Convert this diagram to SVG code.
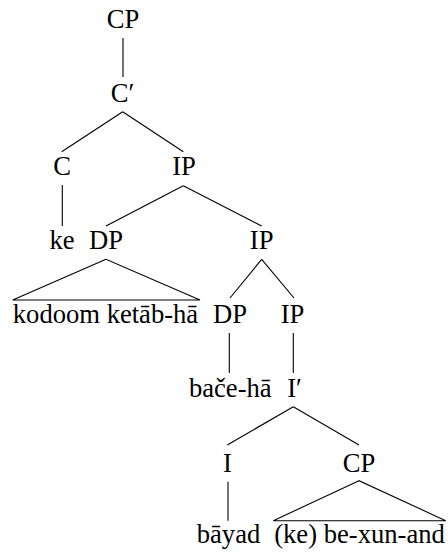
<svg xmlns="http://www.w3.org/2000/svg" width="448" height="554" viewBox="0 0 448 554">
  <style>
    .lbl { font-family: 'Liberation Serif', 'Times New Roman', Times, 'DejaVu Serif', serif; font-size: 26.6px; fill: #000; text-anchor: middle; }
    .edge { stroke: #000; stroke-width: 1.1; fill: none; }
  </style>
  <rect width="448" height="554" fill="#fff"/>

  <!-- branches -->
  <g id="connectors">
    <line class="edge" x1="123" y1="38" x2="123" y2="77"/>
    <line class="edge" x1="122.7" y1="111.7" x2="61.7" y2="151.7"/>
    <line class="edge" x1="122.7" y1="111.7" x2="183.3" y2="151.7"/>
    <line class="edge" x1="62.3" y1="185" x2="62.3" y2="226"/>
    <line class="edge" x1="183.3" y1="185.7" x2="106" y2="226"/>
    <line class="edge" x1="183.3" y1="185.7" x2="261.7" y2="226"/>
    <polygon class="edge" points="106,259.3 12.7,300 200,300"/>
    <line class="edge" x1="261.7" y1="259.3" x2="230" y2="298"/>
    <line class="edge" x1="261.7" y1="259.3" x2="294" y2="298"/>
    <line class="edge" x1="229.3" y1="333" x2="229.3" y2="373"/>
    <line class="edge" x1="293.3" y1="333" x2="293.3" y2="373"/>
    <line class="edge" x1="293.3" y1="406.7" x2="227.3" y2="445"/>
    <line class="edge" x1="293.3" y1="406.7" x2="359" y2="445"/>
    <line class="edge" x1="228" y1="481.7" x2="228" y2="520.7"/>
    <polygon class="edge" points="359,480.7 273.3,520.7 445.7,520.7"/>
  </g>

  <!-- nodes -->
  <g class="lbl" font-family="Liberation Serif">
    <g id="n-cp-top"><text x="123" y="28">CP</text></g>
    <g id="n-cbar"><text x="122.5" y="101.7">C′</text></g>
    <g id="n-c"><text x="62" y="175">C</text></g>
    <g id="n-ip1"><text x="184" y="175">IP</text></g>
    <g id="n-ke"><text x="62" y="249.3">ke</text></g>
    <g id="n-dp1"><text x="106" y="249.3">DP</text></g>
    <g id="n-ip2"><text x="261.7" y="249.3">IP</text></g>
    <g id="n-kodoom"><text x="105.5" y="322.7">kodoom ketāb-hā</text></g>
    <g id="n-dp2"><text x="230" y="322.7">DP</text></g>
    <g id="n-ip3"><text x="292.5" y="322.7">IP</text></g>
    <g id="n-bace"><text x="230.3" y="396.7">bače-hā</text></g>
    <g id="n-ibar"><text x="294.5" y="396.7">I′</text></g>
    <g id="n-i"><text x="227.5" y="471.7">I</text></g>
    <g id="n-cp-low"><text x="359" y="471.7">CP</text></g>
    <g id="n-bayad"><text x="228.5" y="543.3">bāyad</text></g>
    <g id="n-bexunand"><text x="359.5" y="543.3">(ke) be-xun-and</text></g>
  </g>
</svg>
